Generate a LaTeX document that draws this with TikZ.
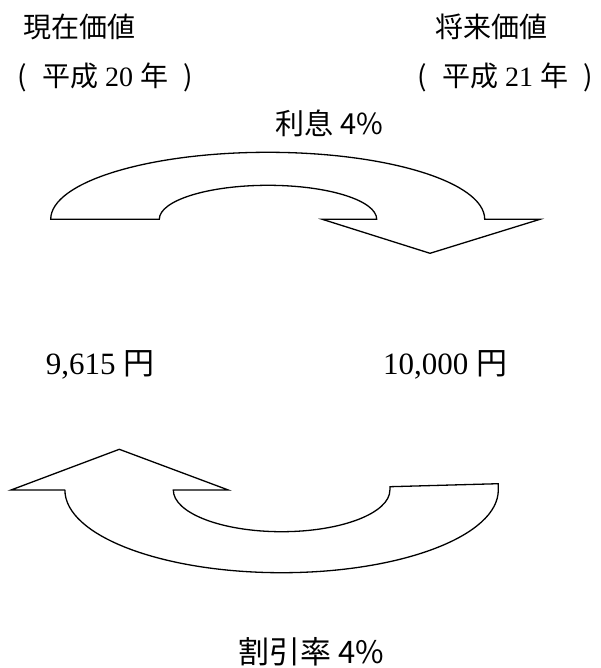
\documentclass[tikz,border=0pt]{standalone}
\usepackage{fontspec}
\setmainfont{Liberation Serif}
\newfontfamily\cjk{Noto Sans CJK JP}
\tikzset{
  lbl/.style={inner sep=0pt, anchor=center},
  arrowshape/.style={draw=black, line width=1.3pt, line join=miter, fill=white}
}
\newcommand{\fs}[1]{\fontsize{#1}{#1}\selectfont}
\begin{document}
\begin{tikzpicture}[x=1pt,y=1pt]
\useasboundingbox (0,0) rectangle (601,-668);
% labels
\node[lbl] (pv) at (79,-26.5) {\fs{28}\cjk 現在価値};
\node[lbl] (pvy) at (105,-77) {\fs{28}{\cjk (\hspace{0.55em}平成\hspace{0.25em}}20{\cjk\hspace{0.25em}年\hspace{0.55em})}};
\node[lbl] (fv) at (491,-26.5) {\fs{28}\cjk 将来価値};
\node[lbl] (fvy) at (505,-77) {\fs{28}{\cjk (\hspace{0.55em}平成\hspace{0.25em}}21{\cjk\hspace{0.25em}年\hspace{0.55em})}};
\node[lbl] (int) at (329.5,-123.5) {\fs{29}\cjk 利息 4\%};
\node[lbl] (pval) at (100,-364.5) {\fs{31}9,615 {\cjk 円}};
\node[lbl] (fval) at (445,-364.5) {\fs{31}10,000 {\cjk 円}};
\node[lbl] (disc) at (311.5,-651.5) {\fs{31}\cjk 割引率 4\%};
% top arrow
\draw[arrowshape] (50.7,-219.3) arc[start angle=180,end angle=0,x radius=217,y radius=67]
  -- (540,-219.3) -- (430,-253.3) -- (322.3,-219.3) -- (376.7,-219.3)
  arc[start angle=0,end angle=180,x radius=108.7,y radius=34] -- cycle;
% bottom arrow
\draw[arrowshape] (65,-490) -- (11,-490) -- (119.3,-449.3) -- (228.3,-490) -- (173.3,-490)
  arc[start angle=180,end angle=360,x radius=108.3,y radius=41.7]
  -- (390,-486.7) -- (498.3,-483.7) -- (498.3,-490)
  arc[start angle=0,end angle=-180,x radius=216.7,y radius=82.7] -- cycle;
\end{tikzpicture}
\end{document}
